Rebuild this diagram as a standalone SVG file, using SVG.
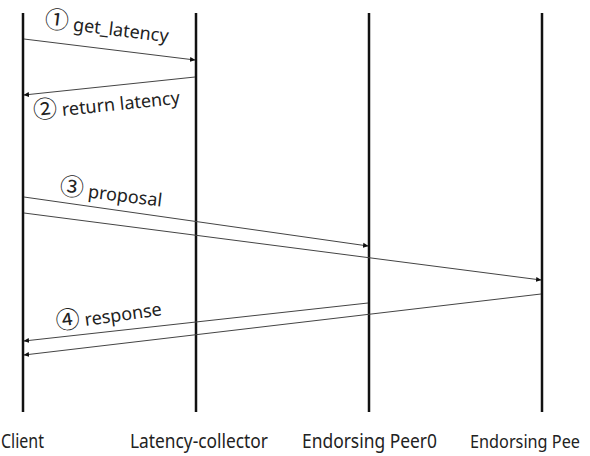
<svg xmlns="http://www.w3.org/2000/svg" width="590" height="456" viewBox="0 0 590 456">
<style>
.life{stroke:#111;stroke-width:2.5;fill:none}
.msg{stroke:#444;stroke-width:1;fill:none;marker-end:url(#ah)}
.lbl{font-family:"Noto Sans","Noto Sans CJK KR",sans-serif;font-size:18px;fill:#222}
.num{font-family:"Noto Sans CJK KR",sans-serif;font-size:24px}
.nm{font-family:"Noto Sans","Noto Sans CJK KR",sans-serif;font-size:19.5px;fill:#222}
</style>
<defs>
<marker id="ah" markerWidth="6" markerHeight="6" refX="5" refY="3" orient="auto" markerUnits="userSpaceOnUse">
<path d="M0,0.5 L5.5,3 L0,5.5 Z" fill="#111"/>
</marker>
</defs>
<rect width="590" height="456" fill="#fff"/>
<g id="client"><line class="life" x1="23" y1="13" x2="23" y2="412"/><text class="nm" x="1" y="448" textLength="43" lengthAdjust="spacingAndGlyphs">Client</text></g>
<g id="latency-collector"><line class="life" x1="196" y1="13" x2="196" y2="412"/><text class="nm" x="130" y="448" textLength="138" lengthAdjust="spacingAndGlyphs">Latency-collector</text></g>
<g id="peer0"><line class="life" x1="369" y1="13" x2="369" y2="412"/><text class="nm" x="302" y="448" textLength="135" lengthAdjust="spacingAndGlyphs">Endorsing Peer0</text></g>
<g id="peer1"><line class="life" x1="542" y1="13" x2="542" y2="412"/><text class="nm" x="470" y="448" style="font-size:17.5px" textLength="110" lengthAdjust="spacingAndGlyphs">Endorsing Pee</text></g>
<g id="connectors">
<line class="msg" x1="24" y1="39" x2="195" y2="60"/>
<line class="msg" x1="195" y1="77" x2="24" y2="95"/>
<line class="msg" x1="24" y1="197" x2="368" y2="246"/>
<line class="msg" x1="24" y1="213" x2="541" y2="280"/>
<line class="msg" x1="368" y1="303" x2="24" y2="341"/>
<line class="msg" x1="541" y1="294" x2="24" y2="355"/>
<text class="lbl" transform="translate(44,27) rotate(7)"><tspan class="num">①</tspan> get_latency</text>
<text class="lbl" transform="translate(34,119) rotate(-6)"><tspan class="num">②</tspan> return latency</text>
<text class="lbl" transform="translate(59,194) rotate(7)"><tspan class="num">③</tspan> proposal</text>
<text class="lbl" transform="translate(57,330) rotate(-8)"><tspan class="num">④</tspan> response</text>
</g>
</svg>
